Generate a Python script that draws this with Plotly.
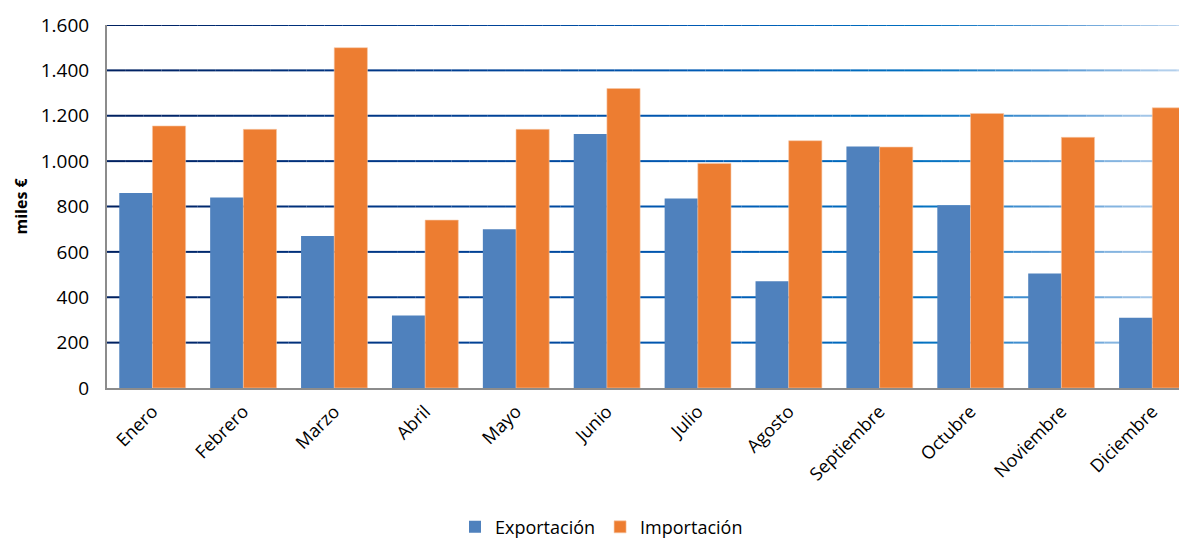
import plotly.graph_objects as go

meses = ["Enero", "Febrero", "Marzo", "Abril", "Mayo", "Junio", "Julio",
         "Agosto", "Septiembre", "Octubre", "Noviembre", "Diciembre"]
exportacion = [860, 840, 670, 320, 700, 1120, 835, 470, 1065, 805, 505, 310]
importacion = [1155, 1140, 1500, 740, 1140, 1320, 990, 1090, 1062, 1210, 1105, 1235]
y_ticks = [0, 200, 400, 600, 800, 1000, 1200, 1400, 1600]
y_labels = ["0", "200", "400", "600", "800", "1.000", "1.200", "1.400", "1.600"]

# gradient stops for the gridlines (paper x, rgb)
grad_stops = [(0.0, (0, 32, 96)), (0.3, (0, 60, 143)), (0.55, (0, 91, 181)),
              (0.75, (0, 112, 192)), (0.88, (91, 155, 213)), (1.0, (201, 221, 242))]


def grad_color(t):
    for (t0, c0), (t1, c1) in zip(grad_stops, grad_stops[1:]):
        if t <= t1:
            f = (t - t0) / (t1 - t0)
            c = [round(a + (b - a) * f) for a, b in zip(c0, c1)]
            return f"rgb({c[0]},{c[1]},{c[2]})"
    c = grad_stops[-1][1]
    return f"rgb({c[0]},{c[1]},{c[2]})"


fig = go.Figure()
fig.add_trace(go.Bar(x=meses, y=exportacion, name="Exportación",
                     marker=dict(color="#4F81BD", line=dict(width=0))))
fig.add_trace(go.Bar(x=meses, y=importacion, name="Importación",
                     marker=dict(color="#ED7D31", line=dict(width=0.6, color="#F6C7A6"))))

# gridlines drawn as short segments so they fade from navy to light blue
shapes = []
n_seg = 60
for v in y_ticks[1:]:
    for i in range(n_seg):
        x0, x1 = i / n_seg, (i + 1) / n_seg
        shapes.append(dict(type="line", xref="paper", yref="y", x0=x0, x1=x1, y0=v, y1=v,
                           layer="below", line=dict(color=grad_color((x0 + x1) / 2), width=2)))

fig.update_layout(
    width=1187, height=538,
    margin=dict(l=99, r=0, t=17, b=158),
    paper_bgcolor="white", plot_bgcolor="white",
    barmode="group", bargap=0.27, bargroupgap=0,
    shapes=shapes,
    font=dict(family="Open Sans, sans-serif", size=18, color="#000000"),
    showlegend=True,
    legend=dict(orientation="h", x=0.5, xanchor="center", xref="container",
                y=0.035, yanchor="middle", yref="container",
                font=dict(size=18), itemwidth=30, traceorder="normal"),
)
fig.update_xaxes(range=[-0.5, 11.47], tickangle=-45, showline=True, linecolor="#8C8C8C",
                 linewidth=2, ticks="", showgrid=False, tickfont=dict(size=18),
                 ticklabelstandoff=4)
fig.update_yaxes(range=[0, 1600], tickvals=y_ticks, ticktext=y_labels, showgrid=False,
                 showline=True, linecolor="#8C8C8C", linewidth=2, ticks="", zeroline=False,
                 tickfont=dict(size=19), ticklabelstandoff=12)
fig.add_annotation(text="<b>miles €</b>", textangle=-90, xref="paper", yref="paper",
                   x=0, xshift=-100, y=0.5, showarrow=False, font=dict(size=16))

fig.write_html("out.html")
